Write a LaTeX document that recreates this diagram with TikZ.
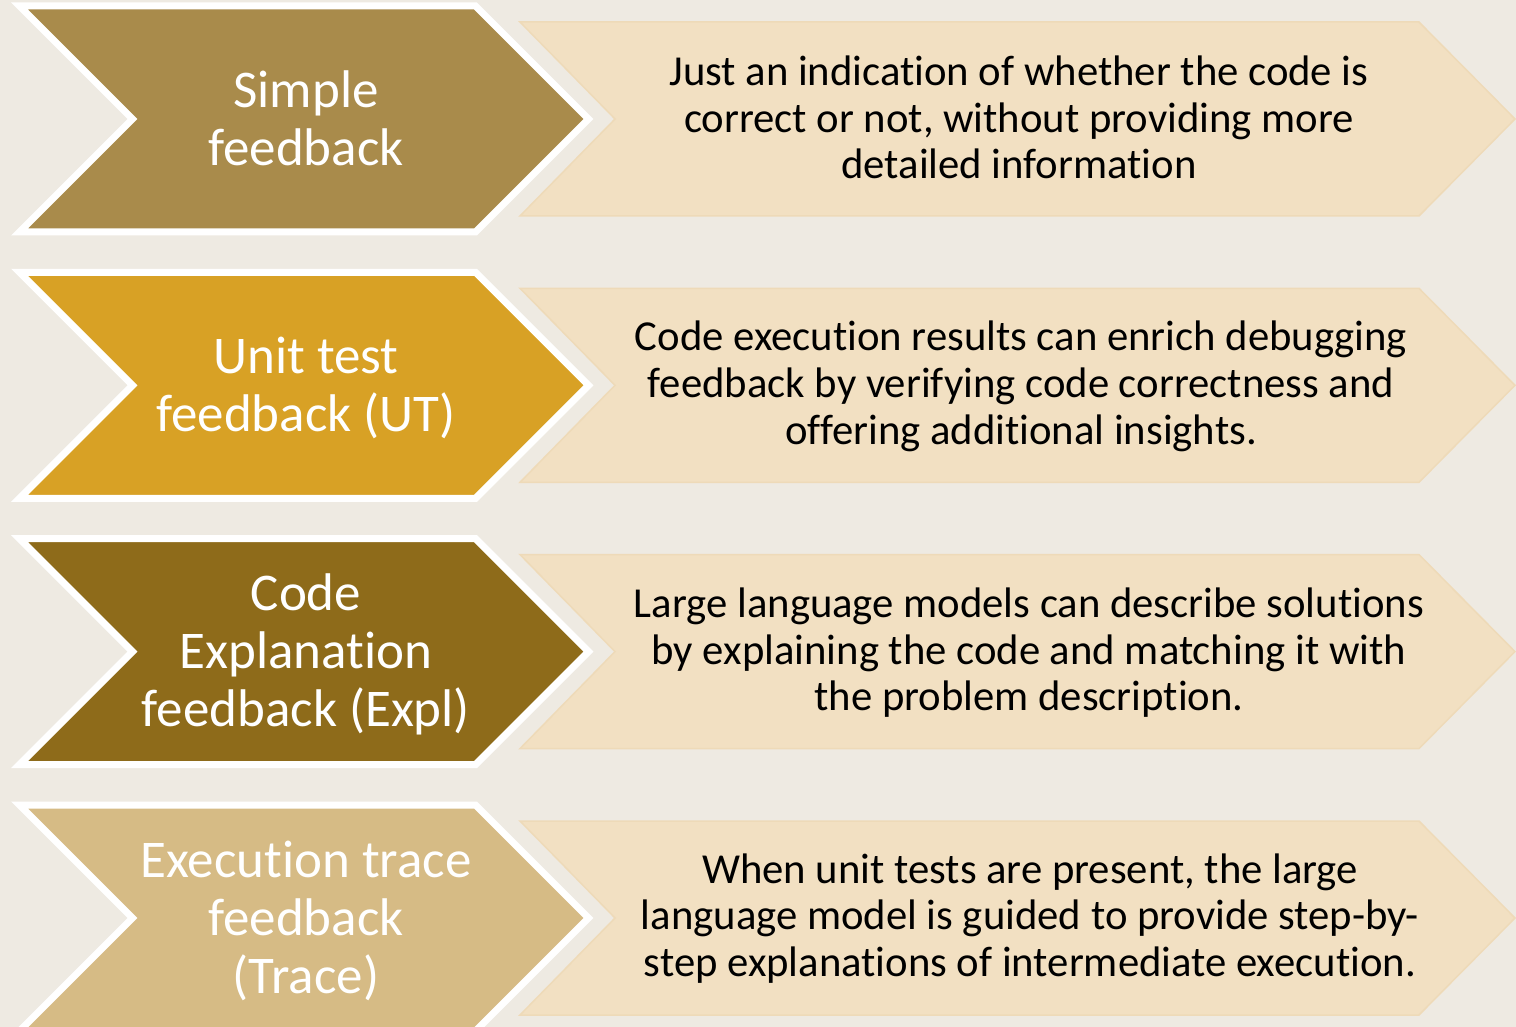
\documentclass[tikz,border=0pt]{standalone}
\usepackage{fontspec}
\setmainfont{Carlito}[Ligatures={NoCommon,NoRequired,NoContextual},RawFeature={-clig;-dlig}]
\definecolor{bgc}{HTML}{EEEAE2}
\definecolor{panelc}{HTML}{F2E0C2}
\definecolor{paneledge}{HTML}{EEDAB8}
\definecolor{chevA}{HTML}{A98B4B}
\definecolor{chevB}{HTML}{D8A125}
\definecolor{chevC}{HTML}{8E6B1A}
\definecolor{chevD}{HTML}{D6BB85}
\tikzset{
  chevbox/.style={draw=white, line width=7pt, line join=miter, fill=#1},
  panelbox/.style={fill=panelc, draw=paneledge, line width=1.5pt, line join=miter},
  titletext/.style={text=white, align=center, font=\fontsize{53}{58}\selectfont},
  desctext/.style={text=black, align=center, font=\fontsize{42.7}{46.7}\selectfont},
}
% chevron outline centred on the row line #1
\newcommand{\chevronpath}[1]{(19.5,#1-113) -- (475.5,#1-113) -- (588.5,#1) -- (475.5,#1+113) -- (19.5,#1+113) -- (132.5,#1) -- cycle}
% notched arrow panel holding the description
\newcommand{\panelpath}[1]{(520,#1-97) -- (1419,#1-97) -- (1515,#1) -- (1419,#1+97) -- (520,#1+97) -- (615,#1) -- cycle}
\begin{document}
\begin{tikzpicture}[x=1pt, y=-1pt]
\clip (0,0) rectangle (1516,1027);
\fill[bgc] (0,0) rectangle (1516,1027);

% row 1
\draw[panelbox] \panelpath{119};
\draw[chevbox=chevA] \chevronpath{119};
\node[titletext] (t1) at (306,118.5) {Simple\\feedback};
\node[desctext] (d1) at (1019,117.5) {Just an indication of whether the code is\\correct or not, without providing more\\detailed information};

% row 2
\draw[panelbox] \panelpath{385.3};
\draw[chevbox=chevB] \chevronpath{385.3};
\node[titletext] (t2) at (306,388) {Unit test\\feedback (UT)};
\node[desctext] (d2) at (1021,386.5) {Code execution results can enrich debugging\\feedback by verifying code correctness and\\offering additional insights.};

% row 3
\draw[panelbox] \panelpath{651.6};
\draw[chevbox=chevC] \chevronpath{651.6};
\node[titletext] (t3) at (306,654.5) {Code\\Explanation\\feedback (Expl)};
\node[desctext] (d3) at (1029,652.8) {Large language models can describe solutions\\by explaining the code and matching it with\\the problem description.};

% row 4
\draw[panelbox] \panelpath{918};
\draw[chevbox=chevD] \chevronpath{918};
\node[titletext] (t4) at (306,920.5) {Execution trace\\feedback\\(Trace)};
\node[desctext] (d4) at (1030,918.5) {When unit tests are present, the large\\language model is guided to provide step-by-\\step explanations of intermediate execution.};
\end{tikzpicture}
\end{document}
